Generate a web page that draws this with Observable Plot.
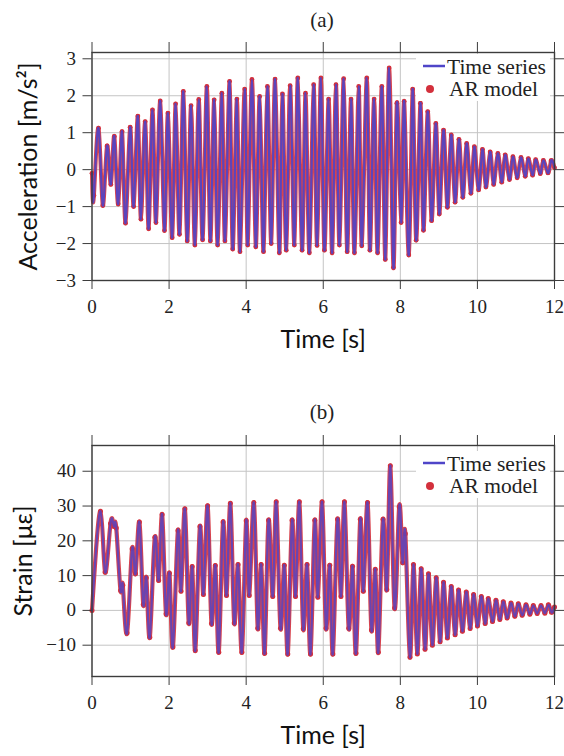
<!DOCTYPE html>
<html><head><meta charset="utf-8">
<script src="https://cdn.jsdelivr.net/npm/d3@7"></script>
<script src="https://cdn.jsdelivr.net/npm/@observablehq/plot@0.6"></script>
<style>
body{margin:0;background:#fff;}
#chart{width:564px;height:756px;position:relative;background:#fff;}
#chart svg{display:block;}
</style></head><body><div id="chart"></div>
<script>
// ---- data ----
const panelTitles = ["(a)", "(b)"];
const seriesNames = ["Time series", "AR model"];
const timeLabel = "Time [s]";
const accelLabel = "Acceleration [m/s²]";
const strainLabel = "Strain [με]";
const timeTicks = [0, 2, 4, 6, 8, 10, 12];
const accelTicks = [-3, -2, -1, 0, 1, 2, 3];
const strainTicks = [-10, 0, 10, 20, 30, 40];

// acceleration: successive peaks / troughs [time s, value m/s²]
const accelSeries = [
[0,-0.1],[0.05,-0.7],[0.17,1.12],[0.28,-0.97],[0.39,0.64],[0.49,-0.4],[0.58,0.9],[0.68,-0.93],[0.78,1.03],[0.87,-1.45],
[0.99,1.15],[1.08,-1.0],[1.19,1.45],[1.27,-1.34],[1.38,1.3],[1.47,-1.6],[1.57,1.62],[1.66,-1.43],[1.77,1.86],[1.88,-1.65],
[1.97,1.53],[2.08,-1.84],[2.17,1.78],[2.27,-1.75],[2.37,2.12],[2.47,-1.93],[2.57,1.73],[2.67,-2.04],[2.77,1.9],[2.87,-1.9],
[2.98,2.25],[3.07,-1.93],[3.17,1.89],[3.26,-2.04],[3.37,2.07],[3.45,-1.93],[3.57,2.39],[3.65,-2.15],[3.76,1.91],[3.84,-2.22],
[3.96,2.18],[4.04,-2.04],[4.15,2.44],[4.25,-2.09],[4.35,1.98],[4.45,-2.22],[4.55,2.25],[4.65,-2.0],[4.75,2.45],[4.86,-2.25],
[4.94,2.05],[5.04,-2.18],[5.14,2.27],[5.25,-2.04],[5.34,2.48],[5.45,-2.18],[5.54,2.07],[5.64,-2.25],[5.75,2.3],[5.84,-2.05],
[5.94,2.48],[6.03,-2.18],[6.14,1.91],[6.23,-2.25],[6.33,2.3],[6.42,-2.04],[6.53,2.46],[6.62,-2.22],[6.72,1.91],[6.81,-2.25],
[6.92,2.25],[7.0,-2.06],[7.13,2.48],[7.21,-2.18],[7.32,1.91],[7.41,-2.25],[7.52,2.25],[7.61,-2.43],[7.71,2.75],[7.82,-2.65],
[7.91,1.8],[8.02,-1.43],[8.1,1.85],[8.22,-2.31],[8.32,2.18],[8.41,-1.91],[8.52,1.8],[8.6,-1.64],[8.71,1.57],[8.81,-1.38],
[8.92,1.25],[9.01,-1.2],[9.12,1.07],[9.22,-1.02],[9.32,0.94],[9.42,-0.88],[9.52,0.82],[9.62,-0.75],[9.72,0.71],[9.83,-0.64],
[9.92,0.62],[10.03,-0.55],[10.13,0.55],[10.22,-0.47],[10.33,0.48],[10.42,-0.4],[10.53,0.44],[10.63,-0.34],[10.72,0.4],[10.83,-0.27],
[10.92,0.35],[11.03,-0.22],[11.13,0.33],[11.24,-0.18],[11.32,0.3],[11.43,-0.15],[11.51,0.27],[11.63,-0.11],[11.71,0.25],[11.83,-0.09],
[11.91,0.24],[12.0,0.05]
];

// strain: successive peaks / troughs [time s, value µε]
const strainSeries = [
[0,0],[0.22,28.5],[0.34,11],[0.48,25],[0.57,24.1],[0.63,23.7],[0.74,5.7],[0.8,7.2],[0.91,-6.5],[1.04,17.7],
[1.13,10.5],[1.23,25.4],[1.33,1.7],[1.41,9.4],[1.5,-7.7],[1.63,21],[1.73,8.6],[1.82,27.6],[1.92,-1.0],[2.01,10.7],
[2.1,-10.5],[2.23,23],[2.31,5.5],[2.41,29.2],[2.51,-3.6],[2.6,12.6],[2.68,-11.5],[2.8,24.1],[2.89,4.6],[3.0,30.1],
[3.1,-3.8],[3.2,12.9],[3.29,-12],[3.4,25.4],[3.49,4.3],[3.59,30.8],[3.69,-3.6],[3.79,13.2],[3.89,-12],[4.0,25.8],
[4.08,4.3],[4.2,31],[4.3,-5.1],[4.39,13.2],[4.48,-12.3],[4.58,25.9],[4.69,4],[4.78,31.2],[4.89,-5.1],[4.99,13],
[5.08,-12.5],[5.19,25.9],[5.28,4],[5.38,31.2],[5.48,-5.3],[5.58,13.2],[5.67,-12.5],[5.78,25.9],[5.86,3.8],[5.97,31.2],
[6.07,-5.1],[6.17,13],[6.25,-12.5],[6.37,26.2],[6.46,4],[6.55,31.2],[6.66,-5.1],[6.76,12.7],[6.85,-12.3],[6.96,26.2],
[7.04,5.5],[7.15,31],[7.25,-5.6],[7.35,11.8],[7.43,-12],[7.55,26.2],[7.65,6],[7.74,41.6],[7.85,0.7],[7.97,29.8],
[8.06,13.7],[8.13,22],[8.25,-13.5],[8.34,13.2],[8.44,-12.5],[8.54,12],[8.64,-11.2],[8.73,10.5],[8.83,-10],[8.93,9.4],
[9.03,-9],[9.12,8.1],[9.22,-7.9],[9.32,6.9],[9.42,-7],[9.51,5.9],[9.61,-6],[9.71,5.3],[9.81,-5.2],[9.9,4.6],
[10.0,-4.5],[10.1,4.0],[10.2,-3.8],[10.28,3.4],[10.39,-3.2],[10.48,2.9],[10.58,-2.6],[10.67,2.5],[10.77,-2.2],[10.87,2.1],
[10.97,-1.7],[11.06,1.9],[11.16,-1.4],[11.26,1.6],[11.36,-1.1],[11.45,1.4],[11.55,-0.9],[11.65,1.4],[11.75,-0.8],[11.84,1.6],
[11.92,-0.5],[12.0,1.0]
];
// The AR model reproduces the measured series (curves overlap in the figure)
const accelAR = accelSeries;
const strainAR = strainSeries;

// ---- styling ----
const TS = "#4f45c8", AR = "#d3303c";
const serif = "'Liberation Serif', 'Times New Roman', serif";
const sans = "Lato, 'Open Sans', sans-serif";

function panel(o) {
  const ts = o.data.map(([t, v]) => ({t, v}));
  const ar = o.ar.map(([t, v]) => ({t, v}));
  const svg = Plot.plot({
    width: 564, height: o.height,
    marginTop: o.marginTop, marginBottom: o.marginBottom, marginLeft: 91.5, marginRight: 10,
    x: {domain: [0, 12]},
    y: {domain: o.yDomain},
    style: {fontFamily: serif, fontSize: "19px", color: "#222", background: "#fff", overflow: "visible"},
    marks: [
      Plot.gridX(timeTicks, {stroke: "#c4c4c4", strokeOpacity: 1, strokeWidth: 1}),
      Plot.gridY(o.yTicks, {stroke: "#c4c4c4", strokeOpacity: 1, strokeWidth: 1}),
      Plot.line(ar, {x: "t", y: "v", stroke: AR, strokeWidth: o.arWidth, strokeOpacity: 0.9, curve: "natural"}),
      Plot.dot(ar, {x: "t", y: "v", fill: AR, r: o.arR, stroke: "none"}),
      Plot.line(ts, {x: "t", y: "v", stroke: TS, strokeWidth: o.tsWidth, strokeOpacity: o.tsOpacity, curve: "natural"}),
      Plot.frame({stroke: "#3c3c3c", strokeWidth: 1.4}),
      Plot.axisX(timeTicks, {anchor: "bottom", tickSize: 9, tickPadding: 10, label: null, stroke: "#3c3c3c", fill: "#222", fontFamily: serif, fontSize: 19}),
      Plot.axisX(timeTicks, {anchor: "top", tickSize: 11, label: null, stroke: "#3c3c3c", fill: "none"}),
      Plot.axisY(o.yTicks, {anchor: "left", tickSize: 9, tickPadding: 7, label: null, stroke: "#3c3c3c", fill: "#222", fontFamily: serif, fontSize: 19}),
      Plot.axisY(o.yTicks, {anchor: "right", tickSize: 9, label: null, stroke: "#3c3c3c", fill: "none"}),
      Plot.axisX({ticks: [], anchor: "bottom", label: timeLabel, labelAnchor: "center", labelArrow: "none", labelOffset: o.xLabelOffset, fontFamily: sans, fontSize: 25, fill: "#111"}),
      Plot.axisY({ticks: [], anchor: "left", label: o.yLabel, labelAnchor: "center", labelArrow: "none", labelOffset: o.yLabelOffset, fontFamily: sans, fontSize: 25, fill: "#111"})
    ]
  });
  const s = d3.select(svg);
  s.append("text").attr("x", 322).attr("y", o.titleY).attr("text-anchor", "middle").attr("dy", "0.35em")
    .attr("font-family", serif).attr("font-size", 21).attr("fill", "#222").text(o.title);
  const g = s.append("g").attr("text-anchor", "start");
  g.append("rect").attr("x", 416).attr("y", o.legendY - 12).attr("width", 134).attr("height", 47).attr("fill", "#fff");
  g.append("line").attr("x1", 423).attr("x2", 445).attr("y1", o.legendY).attr("y2", o.legendY)
    .attr("stroke", TS).attr("stroke-width", 2.5);
  g.append("text").attr("x", 447).attr("y", o.legendY).attr("dy", "0.35em").attr("text-anchor", "start").attr("font-family", serif)
    .attr("font-size", 21.5).attr("fill", "#222").text(seriesNames[0]);
  g.append("circle").attr("cx", 430).attr("cy", o.legendY + 23).attr("r", 4).attr("fill", AR);
  g.append("text").attr("x", 449).attr("y", o.legendY + 22).attr("dy", "0.35em").attr("text-anchor", "start").attr("font-family", serif)
    .attr("font-size", 21.5).attr("fill", "#222").text(seriesNames[1]);
  return svg;
}

const chart = document.getElementById("chart");
chart.appendChild(panel({
  data: accelSeries, ar: accelAR, yDomain: [-3, 3.17], yTicks: accelTicks, yLabel: accelLabel,
  height: 370, marginTop: 52, marginBottom: 90, tsWidth: 2.2, tsOpacity: 0.9, arWidth: 4, arR: 2.4,
  title: panelTitles[0], titleY: 20, legendY: 66, xLabelOffset: 67, yLabelOffset: 73
}));
chart.appendChild(panel({
  data: strainSeries, ar: strainAR, yDomain: [-19, 47.4], yTicks: strainTicks, yLabel: strainLabel,
  height: 386, marginTop: 75, marginBottom: 80, tsWidth: 2.2, tsOpacity: 0.8, arWidth: 4.2, arR: 2.5,
  title: panelTitles[1], titleY: 42, legendY: 93, xLabelOffset: 67, yLabelOffset: 78
}));
</script></body></html>
